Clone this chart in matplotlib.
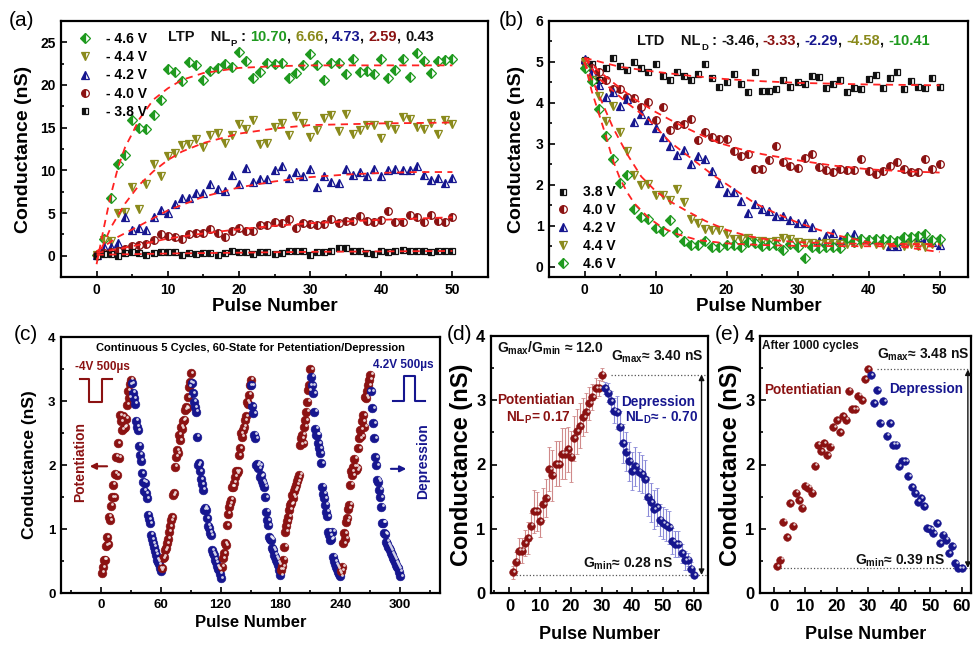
import numpy as np
import matplotlib
matplotlib.use('Agg')
import matplotlib.pyplot as plt
from matplotlib.ticker import MultipleLocator
from matplotlib.transforms import ScaledTranslation

plt.rcParams['font.family'] = 'Liberation Sans'
plt.rcParams['font.weight'] = 'bold'
plt.rcParams['axes.labelweight'] = 'bold'
plt.rcParams['mathtext.fontset'] = 'custom'
plt.rcParams['mathtext.rm'] = 'Liberation Sans:bold'
plt.rcParams['mathtext.it'] = 'Liberation Sans:bold'
plt.rcParams['mathtext.bf'] = 'Liberation Sans:bold'
plt.rcParams['mathtext.default'] = 'rm'

GREEN = '#1f9a1f'
OLIVE = '#8a8a1c'
BLUE = '#16168f'
DRED = '#8b1212'
BLACK = '#111111'
FIT = '#ff2222'

# ---- (a) LTP, conductance vs pulse for 5 gate voltages ----
pulses_ab = np.arange(51)
ltp_46 = [0.1, 2.0, 6.7, 10.7, 11.8, 15.9, 15.0, 14.8, 16.5, 18.3, 21.9, 21.5, 20.5, 22.7, 22.3, 20.6, 21.6,
          22.0, 22.5, 22.1, 23.9, 22.8, 20.8, 21.5, 22.6, 22.5, 22.6, 20.8, 21.4, 22.3, 23.6, 22.3, 20.6, 22.6,
          22.6, 21.3, 23.0, 21.5, 21.6, 21.3, 23.0, 20.8, 21.8, 23.0, 20.9, 23.8, 22.8, 21.4, 22.8, 22.9, 23.0]
ltp_44 = [0.1, 1.8, 1.7, 5.0, 5.1, 8.0, 5.5, 8.4, 10.7, 9.3, 11.7, 12.0, 13.0, 13.1, 13.7, 12.7, 14.1, 14.4,
          13.2, 14.1, 15.4, 14.8, 15.9, 13.1, 13.2, 15.1, 15.6, 14.1, 16.4, 15.5, 13.9, 14.7, 16.1, 16.5, 14.6,
          16.6, 14.3, 14.7, 15.3, 15.3, 13.8, 15.3, 14.8, 16.2, 16.0, 15.1, 14.8, 15.5, 14.3, 15.9, 15.4]
ltp_42 = [0.1, 1.0, 1.0, 1.5, 4.5, 3.0, 3.3, 3.0, 4.5, 5.3, 5.0, 6.0, 6.7, 6.8, 7.4, 7.4, 8.4, 7.8, 7.6, 9.4,
          8.4, 10.3, 8.6, 9.0, 9.0, 10.0, 10.5, 9.1, 9.8, 9.3, 10.2, 8.0, 9.3, 8.6, 8.5, 10.2, 9.5, 9.8, 9.3,
          10.1, 9.3, 10.0, 10.2, 10.0, 10.0, 10.5, 9.5, 8.9, 9.1, 8.5, 9.1]
ltp_40 = [0.1, 0.3, 0.4, 0.6, 0.8, 1.1, 1.3, 1.4, 1.8, 2.5, 2.3, 2.2, 2.0, 2.5, 2.6, 2.6, 3.1, 2.7, 2.2, 2.9,
          3.3, 2.9, 2.9, 3.6, 3.6, 4.0, 3.8, 4.3, 3.3, 3.8, 3.7, 3.6, 3.7, 4.3, 3.8, 4.1, 4.1, 4.7, 4.1, 4.0,
          4.2, 5.2, 3.9, 4.0, 4.8, 4.5, 4.0, 4.8, 4.1, 4.0, 4.5]
ltp_38 = [0.0, 0.2, 0.2, 0.0, 0.3, 0.4, 0.3, 0.1, 0.3, 0.4, 0.4, 0.4, 0.1, 0.3, 0.2, 0.3, 0.3, 0.1, 0.3, 0.5,
          0.4, 0.4, 0.2, 0.4, 0.4, 0.2, 0.3, 0.6, 0.5, 0.5, 0.1, 0.4, 0.4, 0.6, 0.9, 0.9, 0.5, 0.5, 0.3, 0.2,
          0.5, 0.4, 0.6, 0.7, 0.6, 0.5, 0.6, 0.4, 0.5, 0.6, 0.6]

fit_a46_x = [0, 1, 2, 3, 4, 5, 6, 8, 10, 12, 15, 20, 25, 30, 40, 50]
fit_a46_y = [-1.0, 3.2, 7.1, 10.3, 12.7, 14.3, 16.0, 18.3, 19.6, 20.6, 21.4, 22.0, 22.2, 22.3, 22.3, 22.3]
fit_a44_x = [0, 2, 4, 6, 8, 10, 12, 15, 20, 25, 30, 35, 40, 45, 50]
fit_a44_y = [-0.5, 3.3, 6.1, 8.3, 9.9, 11.2, 12.2, 13.2, 14.3, 14.9, 15.3, 15.4, 15.5, 15.55, 15.6]
fit_a42_x = [0, 3, 6, 10, 15, 20, 25, 30, 35, 40, 45, 50]
fit_a42_y = [0.5, 2.2, 3.5, 5.3, 6.9, 8.0, 8.7, 9.2, 9.5, 9.7, 9.8, 9.8]
fit_a40_x = [0, 5, 10, 15, 20, 25, 30, 35, 40, 45, 50]
fit_a40_y = [0.3, 1.1, 2.0, 2.6, 3.1, 3.5, 3.8, 4.0, 4.2, 4.35, 4.5]
fit_a38_x = [0, 10, 20, 30, 40, 50]
fit_a38_y = [0.1, 0.25, 0.35, 0.45, 0.5, 0.55]

# ---- (b) LTD ----
ltd_38 = [5.05, 4.95, 4.55, 4.85, 5.1, 4.9, 4.8, 5.0, 4.85, 4.75, 4.95, 4.65, 4.55, 4.75, 4.65, 4.55, 4.7,
          4.95, 4.6, 4.4, 4.5, 4.7, 4.45, 4.27, 4.75, 4.3, 4.3, 4.35, 4.55, 4.4, 4.5, 4.45, 4.65, 4.63, 4.37,
          4.47, 4.57, 4.27, 4.37, 4.35, 4.58, 4.67, 4.37, 4.6, 4.75, 4.35, 4.53, 4.4, 4.37, 4.6, 4.4]
ltd_40 = [5.0, 4.85, 4.75, 4.55, 4.33, 4.35, 4.15, 4.13, 3.9, 4.02, 3.58, 3.9, 3.35, 3.46, 3.48, 3.6, 3.1,
          3.29, 3.17, 3.13, 3.13, 2.82, 2.7, 2.75, 2.39, 2.39, 2.6, 2.94, 2.55, 2.47, 2.4, 2.66, 2.76, 2.44,
          2.36, 2.31, 2.39, 2.36, 2.36, 2.62, 2.33, 2.27, 2.33, 2.46, 2.56, 2.39, 2.31, 2.32, 2.63, 2.39, 2.51]
ltd_42 = [5.08, 4.76, 4.43, 4.15, 4.27, 3.92, 4.1, 3.54, 3.73, 3.58, 3.38, 3.16, 2.94, 2.72, 2.84, 2.5, 2.7,
          2.62, 2.33, 2.05, 1.82, 1.82, 1.6, 1.32, 1.54, 1.4, 1.36, 1.25, 1.24, 1.15, 1.07, 1.06, 0.97, 0.63,
          0.76, 0.82, 0.65, 0.75, 0.8, 0.7, 0.67, 0.67, 0.68, 0.5, 0.5, 0.64, 0.7, 0.72, 0.65, 0.6, 0.52]
ltd_44 = [5.0, 4.57, 4.16, 3.55, 3.92, 3.3, 2.82, 2.23, 2.0, 2.02, 1.76, 1.76, 1.64, 1.89, 1.58, 1.17, 1.07,
          0.91, 0.89, 0.89, 0.81, 0.68, 0.68, 0.71, 0.63, 0.63, 0.6, 0.62, 0.71, 0.68, 0.6, 0.58, 0.57, 0.55,
          0.57, 0.58, 0.55, 0.55, 0.57, 0.56, 0.6, 0.55, 0.52, 0.55, 0.57, 0.5, 0.55, 0.5, 0.48, 0.55, 0.6]
ltd_46 = [4.85, 4.53, 3.84, 3.19, 2.62, 2.05, 2.25, 1.41, 1.22, 1.17, 0.95, 0.87, 1.14, 0.85, 0.63, 0.54,
          0.52, 0.63, 0.49, 0.49, 0.52, 0.52, 0.49, 0.6, 0.57, 0.5, 0.52, 0.52, 0.4, 0.55, 0.49, 0.22, 0.49,
          0.46, 0.49, 0.49, 0.46, 0.7, 0.6, 0.68, 0.66, 0.68, 0.68, 0.66, 0.63, 0.73, 0.73, 0.76, 0.79, 0.66, 0.68]

fit_b38_x = [0, 5, 10, 15, 20, 25, 30, 40, 50]
fit_b38_y = [5.1, 4.88, 4.76, 4.66, 4.58, 4.53, 4.49, 4.45, 4.43]
fit_b40_x = [0, 2, 4, 7, 10, 13, 16, 19, 22, 25, 30, 35, 40, 45, 50]
fit_b40_y = [5.1, 4.78, 4.5, 4.1, 3.78, 3.5, 3.25, 3.02, 2.87, 2.75, 2.6, 2.47, 2.38, 2.33, 2.3]
fit_b42_x = [0, 2, 4, 6, 9, 12, 15, 18, 21, 24, 27, 30, 33, 36, 40, 45, 50]
fit_b42_y = [5.1, 4.6, 4.3, 4.0, 3.6, 3.05, 2.65, 2.25, 1.9, 1.55, 1.3, 1.08, 0.9, 0.75, 0.6, 0.48, 0.36]
fit_b44_x = [0, 2, 4, 6, 8, 10, 12, 14, 17, 20, 23, 26, 30, 35, 40, 50]
fit_b44_y = [5.0, 4.2, 3.4, 2.75, 2.2, 1.85, 1.6, 1.4, 1.12, 0.9, 0.75, 0.66, 0.6, 0.57, 0.56, 0.55]
fit_b46_x = [0, 1, 2, 3, 4, 5, 6, 7, 9, 11, 13, 16, 20, 25, 30, 40, 50]
fit_b46_y = [5.0, 4.3, 3.75, 3.2, 2.6, 2.15, 1.82, 1.55, 1.2, 0.95, 0.8, 0.65, 0.57, 0.53, 0.51, 0.5, 0.5]

nl_p = ['10.70', '6.66', '4.73', '2.59', '0.43']
nl_d = ['-3.46', '-3.33', '-2.29', '-4.58', '-10.41']

# ---- (c) 5 continuous cycles, 30 potentiation + 30 depression pulses each ----
c_pot = [
    [0.32, 0.4, 0.52, 0.52, 0.74, 0.87, 0.76, 1.19, 1.14, 1.36, 1.5, 1.69, 1.5, 1.86, 2.13, 1.84, 2.34, 2.11,
     2.78, 2.68, 2.55, 2.76, 2.58, 2.6, 2.72, 2.94, 3.16, 3.05, 3.26, 3.33],
    [0.39, 0.54, 0.57, 0.67, 0.7, 0.78, 0.85, 0.96, 1.04, 1.14, 1.18, 1.53, 1.56, 1.97, 2.13, 2.23, 2.18,
     2.47, 2.39, 2.6, 2.57, 2.69, 2.71, 2.86, 2.9, 2.89, 3.06, 3.22, 3.29, 3.43],
    [0.41, 0.54, 0.62, 0.78, 0.75, 1.06, 1.24, 1.35, 1.4, 1.46, 1.66, 1.66, 1.72, 1.82, 1.9, 1.87, 1.9, 2.15,
     2.26, 2.5, 2.44, 2.55, 2.6, 2.7, 2.76, 2.99, 2.96, 3.1, 3.25, 3.33],
    [0.36, 0.42, 0.52, 0.72, 0.96, 1.04, 1.12, 1.19, 1.3, 1.38, 1.4, 1.53, 1.49, 1.6, 1.64, 1.69, 1.75, 1.8,
     1.85, 2.32, 2.42, 2.47, 2.34, 2.6, 2.7, 2.83, 2.99, 3.17, 3.25, 3.5],
    [0.35, 0.41, 0.78, 0.93, 0.85, 1.11, 1.17, 1.32, 1.38, 1.69, 1.9, 1.84, 1.97, 2.1, 1.97, 1.92, 1.95,
     2.26, 2.42, 2.55, 2.45, 2.68, 2.78, 2.6, 3.07, 3.04, 3.15, 3.25, 3.33, 3.41],
]
c_dep = [
    [3.28, 3.13, 3.04, 2.96, 2.69, 2.6, 2.54, 2.3, 2.16, 2.07, 1.87, 1.74, 1.6, 1.72, 1.56, 1.48, 1.22, 1.15,
     1.09, 0.91, 0.84, 0.78, 0.72, 0.65, 0.6, 0.52, 0.49, 0.45, 0.39, 0.35],
    [3.28, 3.12, 2.99, 2.9, 2.83, 2.44, 2.0, 2.03, 1.9, 1.78, 1.7, 1.61, 1.3, 1.33, 1.3, 1.17, 1.05, 1.01,
     0.94, 0.9, 0.67, 0.62, 0.59, 0.52, 0.48, 0.42, 0.38, 0.36, 0.3, 0.23],
    [3.25, 2.92, 2.81, 2.47, 2.42, 2.0, 2.02, 1.95, 2.0, 1.82, 1.84, 1.75, 1.71, 1.66, 1.5, 1.27, 1.14, 1.06,
     0.87, 0.85, 0.83, 0.7, 0.67, 0.6, 0.56, 0.52, 0.48, 0.44, 0.36, 0.28],
    [3.38, 3.25, 3.12, 2.83, 2.57, 2.47, 2.47, 2.34, 2.26, 2.18, 2.03, 1.66, 1.55, 1.48, 1.38, 1.27, 1.2,
     0.96, 0.9, 0.83, 0.85, 0.96, 0.57, 0.5, 0.45, 0.41, 0.38, 0.33, 0.3, 0.26],
    [3.15, 2.89, 2.65, 2.42, 2.12, 2.0, 1.77, 1.74, 1.61, 1.5, 1.35, 1.1, 1.1, 0.93, 0.92, 0.8, 0.76, 0.72,
     0.7, 0.67, 0.62, 0.59, 0.55, 0.52, 0.48, 0.44, 0.41, 0.39, 0.33, 0.26],
]

# ---- (d) averaged 60-state cycle with error bars ----
d_pot = [0.32, 0.49, 0.66, 0.66, 0.78, 0.85, 1.05, 1.27, 1.27, 1.12, 1.38, 1.48, 1.93, 1.83, 2.01, 2.01, 2.17,
         2.17, 2.24, 2.12, 2.41, 2.52, 2.6, 2.74, 2.81, 2.95, 3.05, 3.19, 3.19, 3.40]
d_pot_err = [0.1, 0.15, 0.2, 0.2, 0.2, 0.25, 0.2, 0.33, 0.3, 0.25, 0.25, 0.3, 0.35, 0.4, 0.35, 0.35, 0.4, 0.4,
             0.35, 0.4, 0.35, 0.35, 0.35, 0.3, 0.3, 0.25, 0.2, 0.15, 0.12, 0.1]
d_dep = [3.19, 3.12, 2.99, 2.84, 2.81, 2.59, 2.33, 2.2, 2.05, 1.9, 1.97, 1.89, 1.85, 1.77, 1.5, 1.41, 1.3, 1.34,
         1.14, 1.09, 1.06, 1.02, 0.81, 0.76, 0.76, 0.62, 0.51, 0.52, 0.38, 0.28]
d_dep_err = [0.1, 0.15, 0.15, 0.2, 0.25, 0.25, 0.3, 0.3, 0.3, 0.3, 0.3, 0.3, 0.3, 0.3, 0.3, 0.3, 0.3, 0.3, 0.25,
             0.25, 0.25, 0.25, 0.2, 0.2, 0.2, 0.15, 0.15, 0.1, 0.1, 0.05]
d_gmax, d_gmin = 3.40, 0.28

# ---- (e) after 1000 cycles ----
e_pot = [0.42, 0.52, 1.11, 0.87, 1.4, 1.05, 1.56, 1.44, 1.33, 1.67, 1.64, 1.56, 1.98, 2.31, 2.21, 2.33, 2.15,
         2.28, 2.58, 2.69, 2.5, 2.75, 2.7, 3.15, 2.86, 2.86, 3.07, 3.0, 3.33, 3.48]
e_dep = [3.39, 2.95, 3.16, 2.64, 2.99, 2.45, 2.64, 2.31, 2.31, 1.97, 2.05, 2.05, 1.82, 1.65, 1.55, 1.42, 1.48,
         1.35, 1.01, 0.99, 0.93, 1.09, 0.78, 0.91, 0.83, 0.62, 0.73, 0.47, 0.39, 0.39]
e_gmax, e_gmin = 3.48, 0.39

W, H = 974, 646
fig = plt.figure(figsize=(W / 100, H / 100), dpi=100)


def px_axes(l, t, r, b):
    return fig.add_axes([l / W, 1 - b / H, (r - l) / W, (b - t) / H])


def style(ax, fs):
    for s in ax.spines.values():
        s.set_linewidth(1.6)
    ax.tick_params(which='both', direction='in', width=1.2, labelsize=fs, pad=4)
    ax.tick_params(which='major', length=4)
    ax.tick_params(which='minor', length=2.5)


def half(ax, x, y, marker, color, ms, label=None):
    return ax.plot(x, y, ls='none', marker=marker, ms=ms, mfc=color, mec=color, mew=0.9,
                   fillstyle='left', markerfacecoloralt='white', label=label)[0]


def balls(ax, x, y, color, ms):
    ax.plot(x, y, ls='none', marker='o', ms=ms, mfc=color, mec=color, mew=0.4, zorder=3)
    off = ScaledTranslation(ms * 0.17 / 72, ms * 0.17 / 72, fig.dpi_scale_trans)
    ax.plot(x, y, ls='none', marker='o', ms=ms * 0.32, mfc='white', mec='none', alpha=0.8,
            transform=ax.transData + off, zorder=4)


def nl_text(ax, x, y, head, sub, parts, fs):
    t = ax.text(x, y, head, transform=ax.transAxes, fontsize=fs, va='bottom', color=BLACK)
    s = ax.annotate(sub, xy=(1, 0), xycoords=t, fontsize=fs * 0.65, va='bottom',
                    xytext=(0.3, -3), textcoords='offset points', color=BLACK)
    prev = ax.annotate(' : ', xy=(1, 0), xycoords=(s, t), fontsize=fs, va='bottom', color=BLACK)
    for i, (txt, c) in enumerate(parts):
        prev = ax.annotate(txt, xy=(1, 0), xycoords=prev, fontsize=fs, va='bottom', color=c)
        if i < len(parts) - 1:
            prev = ax.annotate(', ', xy=(1, 0), xycoords=prev, fontsize=fs, va='bottom', color=BLACK)


# (a)
ax = px_axes(61, 21, 488, 277)
style(ax, 10)
half(ax, pulses_ab, ltp_46, 'D', GREEN, 5, '- 4.6 V')
half(ax, pulses_ab, ltp_44, 'v', OLIVE, 6, '- 4.4 V')
half(ax, pulses_ab, ltp_42, '^', BLUE, 6, '- 4.2 V')
half(ax, pulses_ab, ltp_40, 'o', DRED, 5.5, '- 4.0 V')
half(ax, pulses_ab, ltp_38, 's', BLACK, 4.8, '- 3.8 V')
for fx, fy in [(fit_a46_x, fit_a46_y), (fit_a44_x, fit_a44_y), (fit_a42_x, fit_a42_y),
               (fit_a40_x, fit_a40_y), (fit_a38_x, fit_a38_y)]:
    ax.plot(fx, fy, color=FIT, lw=1.3, dashes=(4, 3), zorder=5)
ax.set_xlim(-5, 55)
ax.set_ylim(-2.5, 27.5)
ax.xaxis.set_major_locator(MultipleLocator(10))
ax.xaxis.set_minor_locator(MultipleLocator(5))
ax.yaxis.set_major_locator(MultipleLocator(5))
ax.yaxis.set_minor_locator(MultipleLocator(2.5))
ax.set_xlabel('Pulse Number', fontsize=13.5, labelpad=1)
ax.set_ylabel('Conductance (nS)', fontsize=14, labelpad=6)
ax.legend(loc='upper left', bbox_to_anchor=(0.01, 1.0), frameon=False, fontsize=10, numpoints=1,
          handlelength=1.2, handletextpad=0.9, labelspacing=0.3, borderpad=0.3)
nl_text(ax, 0.25, 0.912, 'LTP    NL', 'P',
        list(zip(nl_p, [GREEN, OLIVE, BLUE, DRED, BLACK])), 10.5)

# (b)
ax = px_axes(549, 21, 968, 277)
style(ax, 10)
half(ax, pulses_ab, ltd_38, 's', BLACK, 4.8, '3.8 V')
half(ax, pulses_ab, ltd_40, 'o', DRED, 5.5, '4.0 V')
half(ax, pulses_ab, ltd_42, '^', BLUE, 6, '4.2 V')
half(ax, pulses_ab, ltd_44, 'v', OLIVE, 6, '4.4 V')
half(ax, pulses_ab, ltd_46, 'D', GREEN, 5, '4.6 V')
for fx, fy in [(fit_b38_x, fit_b38_y), (fit_b40_x, fit_b40_y), (fit_b42_x, fit_b42_y),
               (fit_b44_x, fit_b44_y), (fit_b46_x, fit_b46_y)]:
    ax.plot(fx, fy, color=FIT, lw=1.3, dashes=(4, 3), zorder=5)
ax.set_xlim(-5, 54)
ax.set_ylim(-0.25, 6)
ax.xaxis.set_major_locator(MultipleLocator(10))
ax.xaxis.set_minor_locator(MultipleLocator(5))
ax.yaxis.set_major_locator(MultipleLocator(1))
ax.yaxis.set_minor_locator(MultipleLocator(0.5))
ax.set_xlabel('Pulse Number', fontsize=13.5, labelpad=1)
ax.set_ylabel('Conductance (nS)', fontsize=14, labelpad=8)
ax.legend(loc='lower left', bbox_to_anchor=(-0.012, -0.02), frameon=False, fontsize=10, numpoints=1,
          handlelength=1.2, handletextpad=0.8, labelspacing=0.28, borderpad=0.3)
nl_text(ax, 0.21, 0.895, 'LTD    NL', 'D',
        list(zip(nl_d, [BLACK, DRED, BLUE, OLIVE, GREEN])), 10.5)

# (c)
ax = px_axes(61, 337, 440, 593)
style(ax, 9.5)
for k in range(5):
    balls(ax, 60 * k + np.arange(1, 31), c_pot[k], DRED, 6.3)
    balls(ax, 60 * k + np.arange(31, 61), c_dep[k], BLUE, 6.3)
ax.set_xlim(-40, 340)
ax.set_ylim(0, 4)
ax.xaxis.set_major_locator(MultipleLocator(60))
ax.xaxis.set_minor_locator(MultipleLocator(30))
ax.yaxis.set_major_locator(MultipleLocator(1))
ax.yaxis.set_minor_locator(MultipleLocator(0.5))
ax.set_xlabel('Pulse Number', fontsize=12, labelpad=3)
ax.set_ylabel('Conductance (nS)', fontsize=12.5, labelpad=8)
ax.text(0.5, 0.957, 'Continuous 5 Cycles, 60-State for Petentiation/Depression', transform=ax.transAxes,
        ha='center', va='center', fontsize=8)
ax.text(2, 3.53, '-4V 500µs', color=DRED, ha='center', va='center', fontsize=8.5)
ax.plot([-21, -12, -12, 1, 1, 11], [3.34, 3.34, 2.99, 2.99, 3.34, 3.34], color=DRED, lw=1.5)
ax.text(-21, 2.05, 'Potentiation', rotation=90, color=DRED, ha='center', va='center', fontsize=10)
ax.annotate('', xy=(-14, 1.98), xytext=(9, 1.98),
            arrowprops=dict(arrowstyle='-|>', color=DRED, lw=1.5, mutation_scale=9))
ax.text(303, 3.56, '4.2V 500µs', color=BLUE, ha='center', va='center', fontsize=8.5)
ax.plot([293, 304, 304, 314.5, 314.5, 325], [3.0, 3.0, 3.39, 3.39, 3.0, 3.0], color=BLUE, lw=1.5)
ax.text(323, 2.06, 'Depression', rotation=90, color=BLUE, ha='center', va='center', fontsize=10)
ax.annotate('', xy=(309, 1.94), xytext=(288, 1.94),
            arrowprops=dict(arrowstyle='-|>', color=BLUE, lw=1.5, mutation_scale=9))

# (d)
ax = px_axes(491, 336, 708, 593)
style(ax, 12)
ax.errorbar(np.arange(1, 31), d_pot, yerr=d_pot_err, fmt='none', ecolor='#d08a8a', elinewidth=0.8,
            capsize=1.5, capthick=0.6, zorder=2)
ax.errorbar(np.arange(31, 61), d_dep, yerr=d_dep_err, fmt='none', ecolor='#8a8ad8', elinewidth=0.8,
            capsize=1.5, capthick=0.6, zorder=2)
balls(ax, np.arange(1, 31), d_pot, DRED, 5.5)
balls(ax, np.arange(31, 61), d_dep, BLUE, 5.5)
ax.set_xlim(-6, 64.6)
ax.set_ylim(0, 4)
ax.plot([33, 64.6], [d_gmax, d_gmax], ls=':', color='#555555', lw=0.9)
ax.plot([2, 64.6], [d_gmin, d_gmin], ls=':', color='#555555', lw=0.9)
ax.annotate('', xy=(62.5, d_gmin), xytext=(62.5, d_gmax),
            arrowprops=dict(arrowstyle='<|-|>', color=BLACK, lw=1.0, mutation_scale=8, shrinkA=0, shrinkB=0))
ax.text(-4, 3.81, r'G$_{max}$/G$_{min}$ ≈ 12.0', fontsize=10, va='center', color=BLACK)
ax.text(33, 3.67, r'G$_{max}$≈ 3.40 nS', fontsize=10, va='center', color=BLACK)
ax.text(8.5, 3.0, 'Potentiatian', fontsize=9.8, ha='center', va='center', color=DRED)
ax.text(9.5, 2.72, r'NL$_{P}$= 0.17', fontsize=9.8, ha='center', va='center', color=DRED)
ax.text(48.5, 2.97, 'Depression', fontsize=9.8, ha='center', va='center', color=BLUE)
ax.text(49.5, 2.72, r'NL$_{D}$≈ - 0.70', fontsize=9.8, ha='center', va='center', color=BLUE)
ax.text(24, 0.45, r'G$_{min}$≈ 0.28 nS', fontsize=10, va='center', color=BLACK)
ax.xaxis.set_major_locator(MultipleLocator(10))
ax.xaxis.set_minor_locator(MultipleLocator(5))
ax.yaxis.set_major_locator(MultipleLocator(1))
ax.yaxis.set_minor_locator(MultipleLocator(0.5))
ax.set_xlabel('Pulse Number', fontsize=13, labelpad=9)
ax.set_ylabel('Conductance (nS)', fontsize=17, labelpad=2)

# (e)
ax = px_axes(760, 336, 971, 593)
style(ax, 12)
balls(ax, np.arange(1, 31), e_pot, DRED, 5.5)
balls(ax, np.arange(31, 61), e_dep, BLUE, 5.5)
ax.set_xlim(-4.5, 63)
ax.set_ylim(0, 4)
ax.plot([33, 63], [e_gmax, e_gmax], ls=':', color='#555555', lw=0.9)
ax.plot([1, 63], [e_gmin, e_gmin], ls=':', color='#555555', lw=0.9)
ax.annotate('', xy=(62, e_gmin), xytext=(62, e_gmax),
            arrowprops=dict(arrowstyle='<|-|>', color=BLACK, lw=1.0, mutation_scale=8, shrinkA=0, shrinkB=0))
ax.text(-3.8, 3.84, 'After 1000 cycles', fontsize=8.5, va='center', color=BLACK)
ax.text(33, 3.7, r'G$_{max}$≈ 3.48 nS', fontsize=10, va='center', color=BLACK)
ax.text(9.3, 3.16, 'Potentiatian', fontsize=9.8, ha='center', va='center', color=DRED)
ax.text(48.8, 3.17, 'Depression', fontsize=9.8, ha='center', va='center', color=BLUE)
ax.text(26, 0.5, r'G$_{min}$≈ 0.39 nS', fontsize=10, va='center', color=BLACK)
ax.xaxis.set_major_locator(MultipleLocator(10))
ax.xaxis.set_minor_locator(MultipleLocator(5))
ax.yaxis.set_major_locator(MultipleLocator(1))
ax.yaxis.set_minor_locator(MultipleLocator(0.5))
ax.set_xlabel('Pulse Number', fontsize=13, labelpad=9)
ax.set_ylabel('Conductance (nS)', fontsize=17, labelpad=2)

# panel letters
for lab, x, y in [('(a)', 22, 20), ('(b)', 511, 20), ('(c)', 26, 334), ('(d)', 459, 334), ('(e)', 728, 334)]:
    fig.text(x / W, 1 - y / H, lab, fontsize=15, fontweight='normal', ha='center', va='center')

fig.savefig('out.png', dpi=100)
